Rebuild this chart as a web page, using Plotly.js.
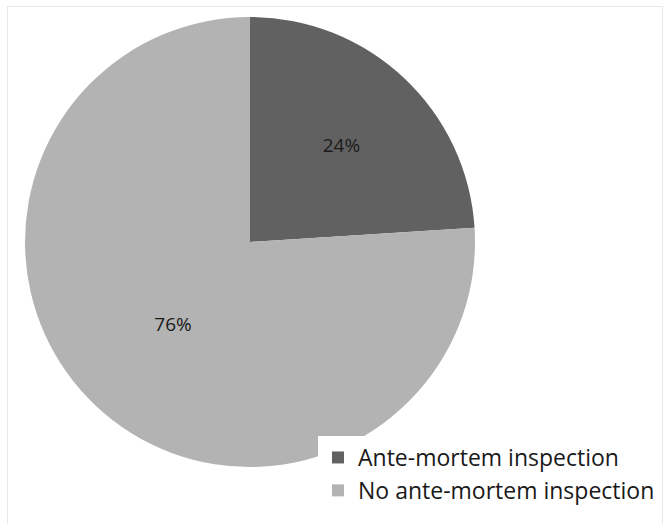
<!DOCTYPE html>
<html>
<head>
<meta charset="utf-8">
<script src="https://cdn.plot.ly/plotly-3.0.1.min.js"></script>
<style>html,body{margin:0;padding:0;background:#fff;}#chart{width:664px;height:524px;}</style>
</head>
<body>
<div id="chart"></div>
<script>
const categories = ["Ante-mortem inspection", "No ante-mortem inspection"];
const shares = [24, 76];
const sliceColors = ["#616161", "#b3b3b3"];

const W = 664, H = 524;
const cx = 250, cy = 242, r = 225;

const trace = {
  type: "pie",
  labels: categories,
  values: shares,
  sort: false,
  direction: "clockwise",
  rotation: 0,
  marker: {colors: sliceColors, line: {width: 0}},
  texttemplate: "%{percent:.0%}",
  textposition: "inside",
  insidetextorientation: "horizontal",
  textfont: {family: "Open Sans, sans-serif", size: 19, color: "#1a1a1a"},
  hoverinfo: "none",
  domain: {x: [(cx - r) / W, (cx + r) / W], y: [1 - (cy + r) / H, 1 - (cy - r) / H]}
};

const layout = {
  width: W, height: H,
  margin: {l: 0, r: 0, t: 0, b: 0},
  paper_bgcolor: "#ffffff",
  showlegend: true,
  legend: {
    x: 318 / W, xanchor: "left",
    y: 1 - 436 / H, yanchor: "top",
    bgcolor: "#ffffff",
    font: {family: "Open Sans, sans-serif", size: 23, color: "#1a1a1a"},
    itemwidth: 30,
    traceorder: "normal"
  },
  shapes: [{
    type: "rect", xref: "paper", yref: "paper",
    x0: 7.5 / W, x1: 662.5 / W, y0: -0.05, y1: 1 - 6.5 / H,
    line: {color: "#e6e6e6", width: 1}, layer: "below"
  }]
};

Plotly.newPlot("chart", [trace], layout, {displayModeBar: false, staticPlot: true});
</script>
</body>
</html>
